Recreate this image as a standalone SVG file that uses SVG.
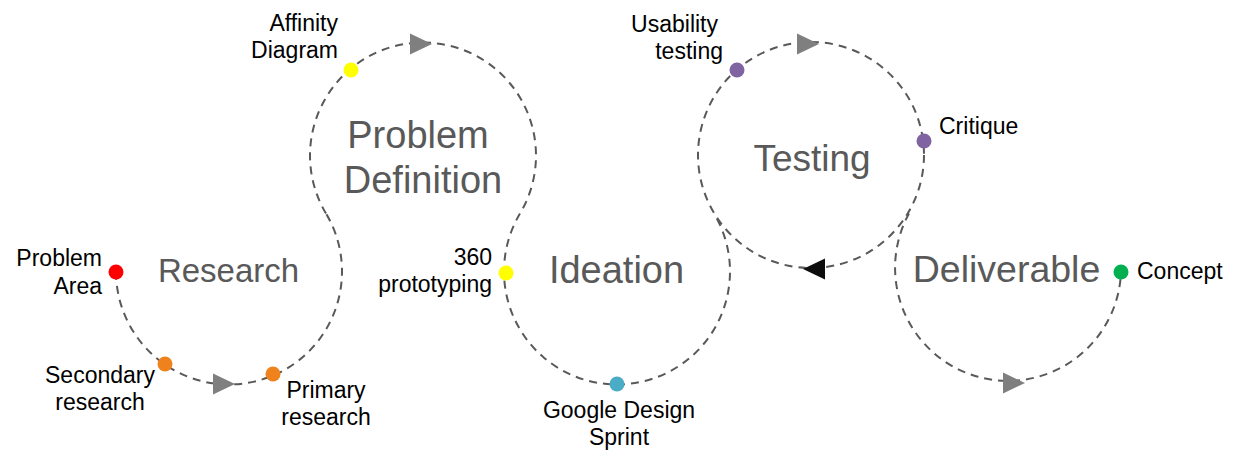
<svg xmlns="http://www.w3.org/2000/svg" xmlns:xlink="http://www.w3.org/1999/xlink" width="1240" height="466" viewBox="0 0 1240 466">
  <style>
    .flow { fill: none; stroke: #595959; stroke-width: 2; stroke-dasharray: 8 6; }
    .arr { fill: #7f7f7f; }
    .arr-dark { fill: #0d0d0d; }
    .title { font-family: "Liberation Sans", Arial, sans-serif; fill: #595959; text-anchor: middle; }
    .lbl { font-family: "Liberation Sans", Arial, sans-serif; font-size: 23px; fill: #000; }
    .end { text-anchor: end; }
    .mid { text-anchor: middle; }
    .red { fill: #ff0000; }
    .orange { fill: #f0821e; }
    .yellow { fill: #ffff00; }
    .teal { fill: #4bacc6; }
    .purple { fill: #8064a2; }
    .green { fill: #00b050; }
  </style>
  <defs>
    <path id="tri" d="M11 0 L-11 -10.5 L-11 10.5 Z"/>
  </defs>
  <rect width="1240" height="466" fill="#ffffff"/>

  <g id="connectors">
    <path class="flow" d="M116 272 A113 113 0 1 0 326 213.5"/>
    <path class="flow" d="M326 213.5 A113 113 0 1 1 520 213.5"/>
    <path class="flow" d="M520 213.5 A113 113 0 1 0 714 213.5"/>
    <circle class="flow" cx="811" cy="155" r="113"/>
    <path class="flow" d="M909 213.5 A113 113 0 1 0 1121 272"/>
    <use xlink:href="#tri" href="#tri" class="arr" transform="translate(224 384)"/>
    <use xlink:href="#tri" href="#tri" class="arr" transform="translate(421 44)"/>
    <use xlink:href="#tri" href="#tri" class="arr" transform="translate(808 44)"/>
    <use xlink:href="#tri" href="#tri" class="arr-dark" transform="translate(814 269) rotate(180)"/>
    <use xlink:href="#tri" href="#tri" class="arr" transform="translate(1014 383)"/>
  </g>

  <g id="stage-research">
    <text class="title" x="228.5" y="282" font-size="33">Research</text>
  </g>
  <g id="stage-problem-definition">
    <text class="title" x="418" y="148" font-size="38">Problem</text>
    <text class="title" x="423" y="193" font-size="38">Definition</text>
  </g>
  <g id="stage-ideation">
    <text class="title" x="616.5" y="283" font-size="38">Ideation</text>
  </g>
  <g id="stage-testing">
    <text class="title" x="812" y="171" font-size="37">Testing</text>
  </g>
  <g id="stage-deliverable">
    <text class="title" x="1006.5" y="282" font-size="37.5">Deliverable</text>
  </g>

  <g id="node-problem-area">
    <circle class="red" cx="116" cy="272" r="7.5"/>
    <text class="lbl end" x="102" y="266">Problem</text>
    <text class="lbl end" x="102" y="293.5">Area</text>
  </g>
  <g id="node-secondary-research">
    <circle class="orange" cx="165" cy="364" r="7.5"/>
    <text class="lbl mid" x="100" y="383">Secondary</text>
    <text class="lbl mid" x="100" y="410">research</text>
  </g>
  <g id="node-primary-research">
    <circle class="orange" cx="273" cy="374" r="7.5"/>
    <text class="lbl mid" x="326" y="398">Primary</text>
    <text class="lbl mid" x="326" y="425">research</text>
  </g>
  <g id="node-affinity-diagram">
    <circle class="yellow" cx="351" cy="70" r="7.5"/>
    <text class="lbl end" x="338" y="30.5">Affinity</text>
    <text class="lbl end" x="338" y="57.5">Diagram</text>
  </g>
  <g id="node-360-prototyping">
    <circle class="yellow" cx="506" cy="273" r="7.5"/>
    <text class="lbl end" x="492" y="265">360</text>
    <text class="lbl end" x="492" y="292">prototyping</text>
  </g>
  <g id="node-google-design-sprint">
    <circle class="teal" cx="617" cy="384" r="7.5"/>
    <text class="lbl mid" x="619" y="417.5">Google Design</text>
    <text class="lbl mid" x="619" y="444.5">Sprint</text>
  </g>
  <g id="node-usability-testing">
    <circle class="purple" cx="737" cy="70" r="7.5"/>
    <text class="lbl end" x="718" y="31.5">Usability</text>
    <text class="lbl end" x="723" y="58.5">testing</text>
  </g>
  <g id="node-critique">
    <circle class="purple" cx="924" cy="141" r="7.5"/>
    <text class="lbl" x="939" y="133.5">Critique</text>
  </g>
  <g id="node-concept">
    <circle class="green" cx="1121" cy="272" r="7.5"/>
    <text class="lbl" x="1137" y="279">Concept</text>
  </g>
</svg>
